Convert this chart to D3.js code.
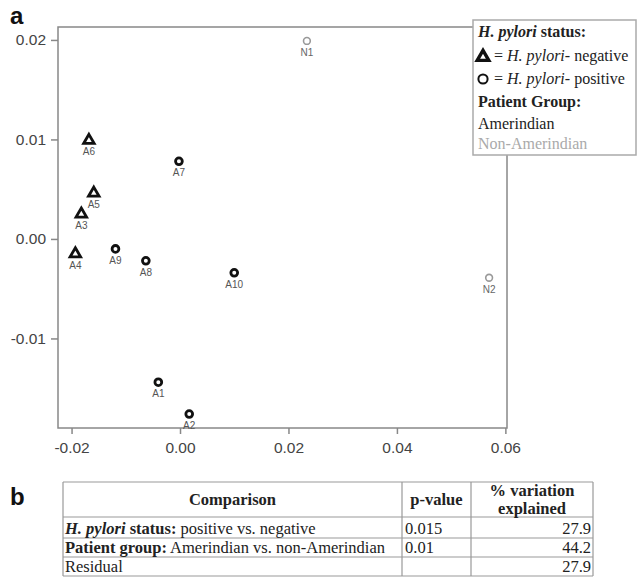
<!DOCTYPE html>
<html lang="en">
<head>
    <meta charset="utf-8">
    <title>PCoA H. pylori</title>
    <script src="https://cdn.jsdelivr.net/npm/d3@7"></script>
    <style type="text/css">
        body { margin: 0; background: white; }
        text.tick-lab { font-family: "Liberation Sans", Arial, sans-serif; font-size: 15.5px; fill: #444; }
        text.pt { font-family: "Liberation Sans", Arial, sans-serif; font-size: 10px; fill: #555; }
        text.serif { font-family: "Liberation Serif", "Times New Roman", serif; font-size: 16px; fill: #222; }
        text.tbl { font-size: 16.5px; }
        text.panel { font-family: "Liberation Sans", Arial, sans-serif; font-size: 24px; font-weight: bold; fill: #111; }
    </style>
</head>
<body>
<script type="text/javascript">

    // sample names and ordination coordinates
    var names    = ["A1", "A2", "A3", "A4", "A5", "A6", "A7", "A8", "A9", "A10", "N1", "N2"];
    var xVals    = [-0.0040, 0.0017, -0.0182, -0.0193, -0.0159, -0.0168, -0.0002, -0.0063, -0.0119, 0.0100, 0.0234, 0.0570];
    var yVals    = [-0.0144, -0.0176, 0.0025, -0.0015, 0.0046, 0.0099, 0.0078, -0.0022, -0.0010, -0.0034, 0.0199, -0.0039];
    var hpStatus = ["pos", "pos", "neg", "neg", "neg", "neg", "pos", "pos", "pos", "pos", "pos", "pos"];
    var hpGroup  = ["A", "A", "A", "A", "A", "A", "A", "A", "A", "A", "N", "N"];

    var xTicks = [-0.02, 0.00, 0.02, 0.04, 0.06];
    var yTicks = [-0.01, 0.00, 0.01, 0.02];

    // table b
    var headers   = ["Comparison", "p-value", "% variation explained"];
    var rowBold   = ["status:", "Patient group:", ""];
    var rowItalic = ["H. pylori", "", ""];
    var rowRest   = [" positive vs. negative", " Amerindian vs. non-Amerindian", "Residual"];
    var pValues   = ["0.015", "0.01", ""];
    var variation = ["27.9", "44.2", "27.9"];

    var w = 637, h = 577;
    var pLeft = 58, pRight = 507, pTop = 27, pBottom = 428;

    var svg = d3.select("body").append("svg")
        .attr("width", w)
        .attr("height", h);

    var xScale = d3.scaleLinear().domain([-0.0225, 0.0603]).range([pLeft, pRight]);
    var yScale = d3.scaleLinear().domain([0.0213, -0.0190]).range([pTop, pBottom]);

    svg.append("text").attr("class", "panel").attr("x", 10).attr("y", 24).text("a");

    //frame
    svg.append("rect")
        .attr("x", pLeft).attr("y", pTop)
        .attr("width", pRight - pLeft).attr("height", pBottom - pTop)
        .attr("fill", "none").attr("stroke", "#888").attr("stroke-width", 1.5);

    var fmt = function (d) { return d.toFixed(2); };

    var xAxis = svg.append("g")
        .attr("transform", "translate(0," + pBottom + ")")
        .call(d3.axisBottom(xScale).tickValues(xTicks).tickFormat(fmt).tickSize(6).tickPadding(8));
    var yAxis = svg.append("g")
        .attr("transform", "translate(" + pLeft + ",0)")
        .call(d3.axisLeft(yScale).tickValues(yTicks).tickFormat(fmt).tickSize(7).tickPadding(5));
    [xAxis, yAxis].forEach(function (a) {
        a.select(".domain").remove();
        a.selectAll("line").attr("stroke", "#888").attr("stroke-width", 1.5);
        a.selectAll("text").attr("class", "tick-lab").attr("font-family", null).attr("font-size", null).attr("fill", null);
    });

    //points
    var pts = names.map(function (n, i) {
        return {name: n, x: xVals[i], y: yVals[i], status: hpStatus[i], group: hpGroup[i]};
    });

    var tri = d3.symbol(d3.symbolTriangle, 48);
    var circ = d3.symbol(d3.symbolCircle, 36);

    var g = svg.selectAll("g.pt")
        .data(pts)
        .enter()
        .append("g")
        .attr("class", "pt")
        .attr("transform", function (d) { return "translate(" + xScale(d.x) + "," + yScale(d.y) + ")"; });

    g.append("path")
        .attr("d", function (d) { return d.status == "neg" ? tri() : circ(); })
        .attr("fill", "white")
        .attr("stroke", function (d) { return d.group == "A" ? "#111" : "#999"; })
        .attr("stroke-width", function (d) { return d.group == "A" ? 2.8 : 1.6; });

    g.append("text")
        .attr("class", "pt")
        .attr("text-anchor", "middle")
        .attr("y", 15)
        .style("fill", function (d) { return d.group == "A" ? "#555" : "#666"; })
        .text(function (d) { return d.name; });

    //legend
    var lx = 473, ly = 20;
    svg.append("rect")
        .attr("x", lx).attr("y", ly).attr("width", 163).attr("height", 135)
        .attr("fill", "white").attr("stroke", "#aaa").attr("stroke-width", 1.5);

    var t1 = svg.append("text").attr("class", "serif").attr("x", lx + 5).attr("y", ly + 17).attr("font-weight", "bold");
    t1.append("tspan").attr("font-style", "italic").text("H. pylori");
    t1.append("tspan").text(" status:");

    svg.append("path")
        .attr("transform", "translate(" + (lx + 10) + "," + (ly + 37) + ")")
        .attr("d", d3.symbol(d3.symbolTriangle, 58)())
        .attr("fill", "white").attr("stroke", "#111").attr("stroke-width", 3.4);
    var t2 = svg.append("text").attr("class", "serif").attr("x", lx + 21).attr("y", ly + 41);
    t2.append("tspan").text("= ");
    t2.append("tspan").attr("font-style", "italic").text("H. pylori-");
    t2.append("tspan").text(" negative");

    svg.append("circle")
        .attr("cx", lx + 10).attr("cy", ly + 59).attr("r", 4.6)
        .attr("fill", "white").attr("stroke", "#111").attr("stroke-width", 2);
    var t3 = svg.append("text").attr("class", "serif").attr("x", lx + 21).attr("y", ly + 64);
    t3.append("tspan").text("= ");
    t3.append("tspan").attr("font-style", "italic").text("H. pylori-");
    t3.append("tspan").text(" positive");

    svg.append("text").attr("class", "serif").attr("x", lx + 5).attr("y", ly + 87)
        .attr("font-weight", "bold").text("Patient Group:");
    svg.append("text").attr("class", "serif").attr("x", lx + 5).attr("y", ly + 109).text("Amerindian");
    svg.append("text").attr("class", "serif").attr("x", lx + 5).attr("y", ly + 129)
        .style("fill", "#aaa").text("Non-Amerindian");

    //table
    svg.append("text").attr("class", "panel").attr("x", 10).attr("y", 505).text("b");

    var tx = [63, 402, 471, 593];
    var ty = [482, 517, 538, 557, 576];
    var tg = svg.append("g").attr("stroke", "#999").attr("stroke-width", 1.2);
    ty.forEach(function (y) {
        tg.append("line").attr("x1", tx[0]).attr("x2", tx[3]).attr("y1", y).attr("y2", y);
    });
    tx.forEach(function (x) {
        tg.append("line").attr("x1", x).attr("x2", x).attr("y1", ty[0]).attr("y2", ty[4]);
    });

    function cell(x, y, anchor) {
        return svg.append("text").attr("class", "serif tbl").attr("text-anchor", anchor).attr("x", x).attr("y", y);
    }

    cell((tx[0] + tx[1]) / 2, 505, "middle").attr("font-weight", "bold").text(headers[0]);
    cell((tx[1] + tx[2]) / 2, 505, "middle").attr("font-weight", "bold").text(headers[1]);
    var hw = headers[2].split(" ");
    cell((tx[2] + tx[3]) / 2, 496, "middle").attr("font-weight", "bold").text(hw[0] + " " + hw[1]);
    cell((tx[2] + tx[3]) / 2, 514, "middle").attr("font-weight", "bold").text(hw[2]);

    rowRest.forEach(function (r, i) {
        var yb = ty[i + 2] - 4;
        var t = cell(tx[0] + 2, yb, "start");
        if (rowItalic[i]) t.append("tspan").attr("font-style", "italic").attr("font-weight", "bold").text(rowItalic[i] + " ");
        if (rowBold[i]) t.append("tspan").attr("font-weight", "bold").text(rowBold[i]);
        t.append("tspan").text(r);
        cell(tx[1] + 3, yb, "start").text(pValues[i]);
        cell(tx[3] - 2, yb, "end").text(variation[i]);
    });

</script>
</body>
</html>
